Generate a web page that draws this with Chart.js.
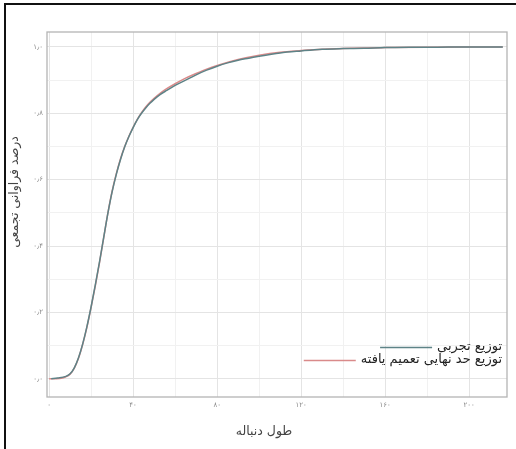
<!DOCTYPE html>
<html>
<head>
<meta charset="utf-8">
<script src="https://cdn.jsdelivr.net/npm/chart.js@4/dist/chart.umd.min.js"></script>
<style>
  html, body { margin: 0; padding: 0; background: #fff; overflow: hidden; }
  #wrap { position: relative; width: 516px; height: 449px; overflow: hidden; }
  #frameL { position: absolute; left: 4px; top: 3px; width: 2px; height: 446px; background: #111; }
  #frameT { position: absolute; left: 4px; top: 3px; width: 512px; height: 2px; background: #111; }
  canvas { position: absolute; left: 0; top: 0; }
</style>
</head>
<body>
<div id="wrap">
  <canvas id="c" width="516" height="449"></canvas>
  <div id="frameL"></div>
  <div id="frameT"></div>
</div>
<script>
// ---- data ----
const empiricalX = [1, 4, 8, 10, 12, 14, 16, 18, 20, 22, 24, 26, 28, 30, 32, 34, 36, 38, 40, 42, 44, 46, 48, 50, 53, 56, 60, 65, 70, 75, 80, 85, 90, 95, 100, 110, 120, 130, 140, 150, 160, 175, 190, 205, 216];
const empiricalY = [0, 0.002, 0.007, 0.015, 0.033, 0.063, 0.105, 0.157, 0.217, 0.283, 0.352, 0.426, 0.499, 0.563, 0.616, 0.661, 0.699, 0.730, 0.757, 0.781, 0.800, 0.816, 0.830, 0.842, 0.857, 0.869, 0.884, 0.900, 0.916, 0.930, 0.942, 0.952, 0.960, 0.966, 0.972, 0.982, 0.988, 0.993, 0.995, 0.996, 0.998, 0.999, 0.9995, 1.0, 1.0];
const fittedX = [0, 5, 8, 10, 12, 14, 16, 18, 20, 22, 24, 26, 28, 30, 32, 34, 36, 38, 40, 42, 44, 46, 48, 50, 53, 56, 60, 65, 70, 75, 80, 90, 100, 110, 120, 130, 140, 150, 160, 180, 200, 216];
const fittedY = [0, 0.001, 0.006, 0.014, 0.032, 0.062, 0.104, 0.155, 0.215, 0.28, 0.35, 0.425, 0.50, 0.565, 0.618, 0.663, 0.70, 0.731, 0.758, 0.782, 0.802, 0.819, 0.833, 0.845, 0.861, 0.874, 0.889, 0.906, 0.92, 0.933, 0.944, 0.962, 0.975, 0.984, 0.989, 0.993, 0.995, 0.997, 0.998, 0.9993, 0.9997, 0.9999];
const seriesLabels = ['توزیع تجربی', 'توزیع حد نهایی تعمیم یافته'];
const xGridValues = [0, 20, 40, 60, 80, 100, 120, 140, 160, 180, 200];
const xTickValues = [0, 40, 80, 120, 160, 200];
const xTickLabels = ['۰', '۴۰', '۸۰', '۱۲۰', '۱۶۰', '۲۰۰'];
const yGridValues = [0, 0.1, 0.2, 0.3, 0.4, 0.5, 0.6, 0.7, 0.8, 0.9, 1.0];
const yTickValues = [0, 0.2, 0.4, 0.6, 0.8, 1.0];
const yTickLabels = ['۰٫۰', '۰٫۲', '۰٫۴', '۰٫۶', '۰٫۸', '۱٫۰'];
const xTitle = 'طول دنباله';
const yTitle = 'درصد فراوانی تجمعی';

const colEmp = '#5e8387';
const colFit = '#d98a8a';
const FONT = '"DejaVu Sans", sans-serif';

function pts(xs, ys) { return xs.map((x, i) => ({ x: x, y: ys[i] })); }
function near(a, b) { return Math.abs(a - b) < 1e-6; }

const extras = {
  id: 'extras',
  beforeDatasetsDraw(chart) {
    const { ctx, chartArea: a } = chart;
    ctx.save();
    ctx.strokeStyle = '#b4b4b4';
    ctx.lineWidth = 1.3;
    ctx.strokeRect(a.left, a.top, a.right - a.left, a.bottom - a.top);
    ctx.restore();
  },
  afterDraw(chart) {
    const { ctx } = chart;
    ctx.save();
    // axis titles
    ctx.fillStyle = '#444';
    ctx.font = '12.5px ' + FONT;
    ctx.textAlign = 'center';
    ctx.textBaseline = 'middle';
    ctx.direction = 'rtl';
    ctx.fillText(xTitle, 264, 432);
    ctx.save();
    ctx.translate(15, 192);
    ctx.rotate(-Math.PI / 2);
    ctx.fillText(yTitle, 0, 0);
    ctx.restore();
    // legend
    const cols = [colEmp, colFit];
    const ys = [347, 360];
    ctx.font = '13px ' + FONT;
    ctx.textAlign = 'right';
    seriesLabels.forEach((lab, i) => {
      ctx.fillStyle = '#222';
      ctx.fillText(lab, 502, ys[i]);
      const w = ctx.measureText(lab).width;
      const end = 502 - w - 5;
      ctx.strokeStyle = cols[i];
      ctx.lineWidth = 1.5;
      ctx.beginPath();
      ctx.moveTo(end - 52, ys[i] + 0.5);
      ctx.lineTo(end, ys[i] + 0.5);
      ctx.stroke();
    });
    ctx.restore();
  }
};

new Chart(document.getElementById('c'), {
  type: 'line',
  data: {
    datasets: [
      { label: seriesLabels[0], data: pts(empiricalX, empiricalY), borderColor: colEmp, borderWidth: 1.5, pointRadius: 0, cubicInterpolationMode: 'monotone', fill: false },
      { label: seriesLabels[1], data: pts(fittedX, fittedY), borderColor: colFit, borderWidth: 1.5, pointRadius: 0, cubicInterpolationMode: 'monotone', fill: false }
    ]
  },
  options: {
    responsive: false,
    animation: false,
    layout: { padding: { left: 8, top: 32, right: 9, bottom: 0 } },
    plugins: { legend: { display: false }, tooltip: { enabled: false } },
    scales: {
      x: {
        type: 'linear', min: -1, max: 218,
        afterBuildTicks(s) { s.ticks = xGridValues.map(v => ({ value: v })); },
        afterFit(s) { s.height = 52; },
        grid: {
          drawTicks: false,
          color: c => (xTickValues.some(v => near(v, c.tick.value)) ? '#e4e4e4' : '#f1f1f1'),
          lineWidth: 1
        },
        border: { display: false },
        ticks: {
          padding: 4, maxRotation: 0, autoSkip: false,
          color: '#8a8a8a', font: { size: 7, family: FONT },
          callback: v => { const i = xTickValues.findIndex(t => near(t, v)); return i >= 0 ? xTickLabels[i] : ''; }
        }
      },
      y: {
        type: 'linear', min: -0.055, max: 1.045,
        afterBuildTicks(s) { s.ticks = yGridValues.map(v => ({ value: v })); },
        afterFit(s) { s.width = 39; },
        grid: {
          drawTicks: false,
          color: c => (yTickValues.some(v => near(v, c.tick.value)) ? '#e4e4e4' : '#f1f1f1'),
          lineWidth: 1
        },
        border: { display: false },
        ticks: {
          padding: 4, autoSkip: false,
          color: '#8a8a8a', font: { size: 7, family: FONT },
          callback: v => { const i = yTickValues.findIndex(t => near(t, v)); return i >= 0 ? yTickLabels[i] : ''; }
        }
      }
    }
  },
  plugins: [extras]
});
</script>
</body>
</html>
